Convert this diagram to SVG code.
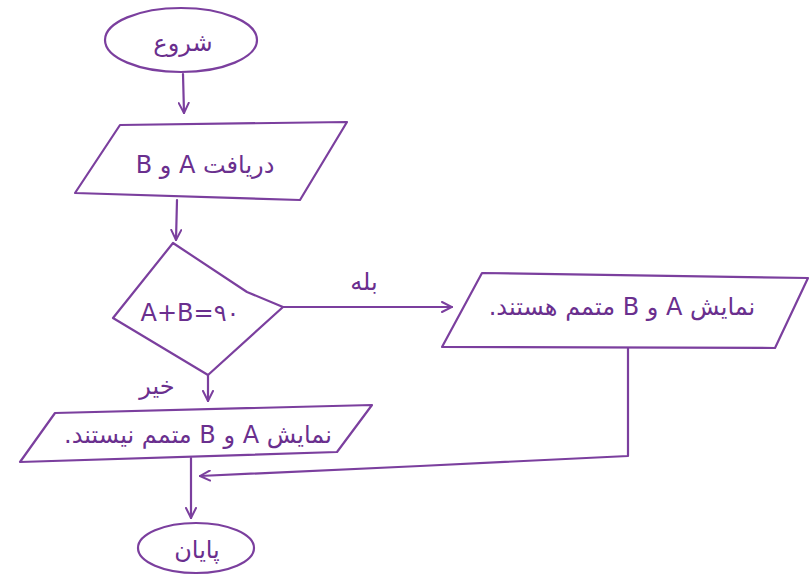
<svg xmlns="http://www.w3.org/2000/svg" width="812" height="575" viewBox="0 0 812 575">
<defs>
<style>
.s{fill:none;stroke:#7b3f9e;stroke-width:2.2;stroke-linejoin:round;stroke-linecap:round}
.t{fill:#6a2f8e;font-family:"DejaVu Sans",sans-serif;font-size:24px;text-anchor:middle}
.r{direction:rtl;unicode-bidi:embed}
</style>
<marker id="ah" viewBox="0 0 12 12" refX="11" refY="6" markerWidth="12" markerHeight="12" markerUnits="userSpaceOnUse" orient="auto">
<path d="M1,1 L11,6 L1,11" fill="none" stroke="#7b3f9e" stroke-width="2" stroke-linecap="round"/>
</marker>
</defs>
<rect width="812" height="575" fill="#ffffff"/>
<g id="connectors">
<path class="s" d="M183,74 L184,113" marker-end="url(#ah)"/>
<path class="s" d="M177,200 L176,240" marker-end="url(#ah)"/>
<path class="s" d="M283,307 L452,307" marker-end="url(#ah)"/>
<path class="s" d="M208,375 L208,401" marker-end="url(#ah)"/>
<path class="s" d="M628,348 L628,456 L420,466 L200,476" marker-end="url(#ah)"/>
<path class="s" d="M191,458 L191,518" marker-end="url(#ah)"/>
</g>
<g id="label-yes"><text class="t r" x="364" y="290" font-size="20">بله</text></g>
<g id="label-no"><text class="t r" x="157" y="394" font-size="21">خیر</text></g>
<g id="start">
<ellipse class="s" cx="181" cy="40" rx="76" ry="32"/>
<text class="t r" x="183" y="51" font-size="30">شروع</text>
</g>
<g id="input">
<path class="s" d="M120,125 L347,122 L300,200 L75,193 Z"/>
<text class="t r" x="205" y="173">دریافت A و B</text>
</g>
<g id="decision">
<path class="s" d="M173,243 L247,292 L283,307 L208,375 L113,318 Z"/>
<text class="t" x="190" y="321">A+B=۹۰</text>
</g>
<g id="out-yes">
<path class="s" d="M482,273 L808,278 L775,348 L442,347 Z"/>
<text class="t r" x="622" y="315">نمایش A و B متمم هستند.</text>
</g>
<g id="out-no">
<path class="s" d="M55,413 L372,405 L337,452 L20,462 Z"/>
<text class="t r" x="198" y="443">نمایش A و B متمم نیستند.</text>
</g>
<g id="end">
<ellipse class="s" cx="196" cy="548" rx="58" ry="25"/>
<text class="t r" x="197" y="558" font-size="28">پایان</text>
</g>
</svg>
